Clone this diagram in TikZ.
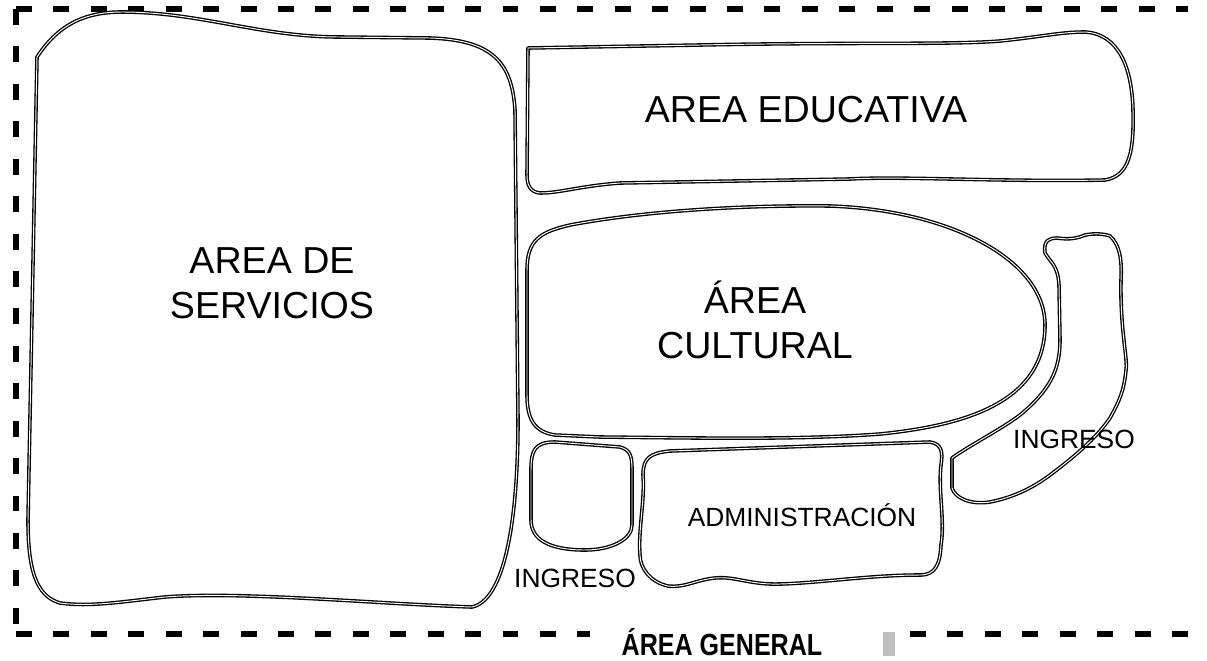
\documentclass[tikz,border=0pt]{standalone}
\usepackage{fontspec}
\setmainfont{Liberation Sans}
% narrow bold face for the title under the border
\newfontfamily\angosta[FakeStretch=0.82]{Liberation Sans}

\begin{document}
\begin{tikzpicture}[
  x=0.02cm,y=-0.02cm,
  zona/.style={draw=black,line width=0.75pt,double=white,
               double distance=0.55pt,line join=round},
  borde/.style={line width=3.4pt,dash pattern=on 9.1pt off 12.2pt},
  grande/.style={inner sep=0pt,align=center,
                 font=\fontsize{21.4}{25.5}\selectfont},
  chica/.style={inner sep=0pt,anchor=base,font=\fontsize{15}{18}\selectfont},
  ]
  \useasboundingbox (0,0) rectangle (1207,660);

  % dashed site limit
  \draw[borde] (16,9) -- (1188,9);
  \draw[borde] (16,9) -- (16,634);
  \draw[borde] (16,634) -- (590,634);
  \draw[borde] (910,634) -- (1188,634);
  \fill[black!25] (883,632) rectangle (895,656);

  % zones
  \draw[zona] (37,57) .. controls (60,22) and (88,12) .. (122,12)
    .. controls (200,12) and (260,37) .. (340,37) -- (430,38)
    .. controls (492,40) and (512,62) .. (515,110) -- (518,420)
    .. controls (518,520) and (505,600) .. (472,607)
    .. controls (380,604) and (240,591) .. (165,597)
    .. controls (120,602) and (90,607) .. (60,603)
    .. controls (36,596) and (28,570) .. (28,520) -- cycle;

  \draw[zona] (528,48) -- (700,45)
    .. controls (850,42) and (950,45) .. (1000,41)
    .. controls (1040,37) and (1060,32) .. (1085,32)
    .. controls (1120,34) and (1132,70) .. (1133,110)
    .. controls (1134,150) and (1130,176) .. (1105,180)
    .. controls (1000,182) and (900,176) .. (850,179) -- (620,183)
    .. controls (580,186) and (560,193) .. (540,193)
    .. controls (530,192) and (527,185) .. (527,175) -- cycle;

  \draw[zona] (527,270) .. controls (527,240) and (540,232) .. (570,225)
    .. controls (650,210) and (750,205) .. (830,206)
    .. controls (950,210) and (1045,260) .. (1045,325)
    .. controls (1045,400) and (970,425) .. (880,434)
    .. controls (800,440) and (700,438) .. (600,437) -- (555,435)
    .. controls (535,432) and (527,420) .. (527,395) -- cycle;

  \draw[zona] (531,470) .. controls (531,450) and (535,442) .. (555,442)
    -- (620,447) .. controls (630,450) and (632,455) .. (632,470)
    -- (632,525) .. controls (632,540) and (610,550) .. (585,550)
    .. controls (550,550) and (531,540) .. (531,520) -- cycle;

  \draw[zona] (643,475) .. controls (643,458) and (650,453) .. (670,451)
    -- (930,442) .. controls (942,444) and (943,452) .. (941,465)
    .. controls (938,490) and (945,520) .. (941,545)
    .. controls (940,565) and (935,575) .. (920,575)
    .. controls (870,575) and (820,583) .. (780,584)
    .. controls (750,585) and (735,576) .. (715,578)
    .. controls (695,580) and (685,588) .. (668,586)
    .. controls (650,582) and (640,568) .. (640,555)
    .. controls (638,530) and (645,500) .. (643,475) -- cycle;

  \draw[zona] (1045,253) .. controls (1043,240) and (1050,238) .. (1057,238)
    .. controls (1070,240) and (1078,238) .. (1085,235)
    .. controls (1095,233) and (1105,234) .. (1110,236)
    .. controls (1120,245) and (1122,260) .. (1121,280)
    .. controls (1120,330) and (1128,360) .. (1126,370)
    .. controls (1124,390) and (1120,400) .. (1110,418)
    .. controls (1095,440) and (1070,460) .. (1050,475)
    .. controls (1030,490) and (1010,498) .. (990,502)
    .. controls (970,505) and (955,498) .. (952,488) -- (952,458)
    .. controls (970,445) and (1000,430) .. (1020,415)
    .. controls (1050,390) and (1060,370) .. (1060,340) -- (1059,285)
    .. controls (1058,265) and (1050,262) .. (1045,253) -- cycle;

  % labels
  \node[grande] (servicios) at (272,283) {AREA DE\\SERVICIOS};
  \node[grande,anchor=base] (educativa) at (806,122) {AREA EDUCATIVA};
  \node[grande] (cultural) at (755,320) {ÁREA\\CULTURAL};
  \node[chica] (admin) at (802,526) {ADMINISTRACIÓN};
  \node[chica] (ingresoA) at (575,587) {INGRESO};
  \node[chica] (ingresoB) at (1074,448) {INGRESO};
  \node[inner sep=0pt,anchor=base,font=\angosta\bfseries\fontsize{17.4}{20}\selectfont]
    (general) at (722,655) {ÁREA GENERAL};
\end{tikzpicture}
\end{document}
